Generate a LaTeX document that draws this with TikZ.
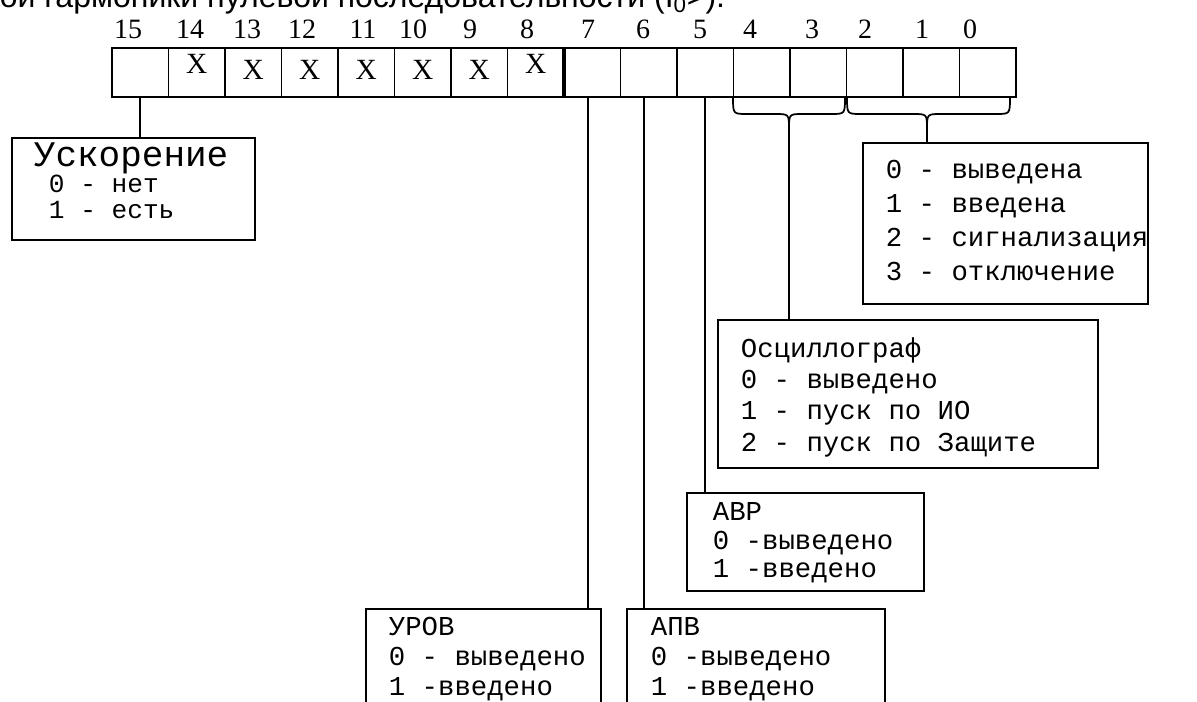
\documentclass[tikz,border=0pt]{standalone}
\usepackage{fontspec}
\setmainfont{Liberation Serif}
\newfontfamily\monofnt{Liberation Mono}
\newfontfamily\sansfnt{Liberation Sans}
\usetikzlibrary{calc}
\begin{document}
\begin{tikzpicture}[x=0.75pt,y=-0.75pt,line width=1.4pt,
  bitbox/.style={draw,minimum width=42.375pt,minimum height=36.75pt,inner sep=0pt,outer sep=0pt},
  infobox/.style={draw,anchor=north west,inner sep=0pt,outer sep=0pt},
  bitnum/.style={font=\fontsize{21}{24}\selectfont,inner sep=0pt},
  xmark/.style={font=\fontsize{22}{24}\selectfont,inner sep=0pt},
  ln/.style={anchor=base west,inner sep=0pt,font=\monofnt\fontsize{20.5}{24}\selectfont},
  lnbig/.style={ln,font=\monofnt\fontsize{27}{30}\selectfont},
  lnsmall/.style={ln,font=\monofnt\fontsize{19.6}{24}\selectfont},
  wire/.style={line width=1.3pt},
  curly/.style={line width=1.3pt}]
\useasboundingbox (0,0) rectangle (1197,702);
\clip (0,0) rectangle (1197,702);

% cut-off caption line at the top
\node[anchor=base west,inner sep=0pt,font=\sansfnt\fontsize{24}{28}\selectfont] (cap) at (-1,8)
  {ой гармоники нулевой последовательности (I\textsubscript{0}>).};

% register cells
\foreach \i in {0,...,15}
  \node[bitbox] (b\i) at ({112+56.5*(15.5-\i)},72.5) {};
\draw[line width=2.6pt] (b8.north east) -- (b8.south east);

% bit numbers
\foreach \i/\xx in {15/128,14/190,13/247,12/302,11/363,10/413,9/470,8/527,7/588,6/643,5/700,4/750,3/812,2/865,1/922,0/970}
  \node[bitnum] (n\i) at (\xx,29) {\i};

% reserved bits
\foreach \i/\dy in {14/-9,13/-3,12/-3,11/-3,10/-3,9/-3,8/-9}
  \node[xmark] (x\i) at ($(b\i.center)+(0,\dy)$) {X};

% description boxes
\node[infobox,minimum width=182.25pt,minimum height=76.5pt] (usk) at (12,138) {};
\node[infobox,minimum width=213.75pt,minimum height=120.75pt] (vals) at (863,143) {};
\node[infobox,minimum width=285pt,minimum height=111pt] (osc) at (718,320) {};
\node[infobox,minimum width=177.75pt,minimum height=73.5pt] (avr) at (687,493) {};
\node[infobox,minimum width=176.25pt,minimum height=90pt] (urov) at (366,609) {};
\node[infobox,minimum width=193.5pt,minimum height=90pt] (apv) at (627,609) {};

% texts
\node[lnbig] (usk1) at (33,167) {Ускорение};
\node[lnsmall] (usk2) at (48,193) {0 - нет};
\node[lnsmall] (usk3) at (48,219) {1 - есть};

\node[ln] (vals1) at (885,179) {0 - выведена};
\node[ln] (vals2) at (885,213) {1 - введена};
\node[ln] (vals3) at (885,247) {2 - сигнализация};
\node[ln] (vals4) at (885,281) {3 - отключение};

\node[ln] (osc1) at (740,358) {Осциллограф};
\node[ln] (osc2) at (740,389) {0 - выведено};
\node[ln] (osc3) at (740,420) {1 - пуск по ИО};
\node[ln] (osc4) at (740,451) {2 - пуск по Защите};

\node[ln] (avr1) at (712,520) {АВР};
\node[ln] (avr2) at (712,549) {0 -выведено};
\node[ln] (avr3) at (712,577) {1 -введено};

\node[ln] (urov1) at (388,635) {УРОВ};
\node[ln] (urov2) at (388,665) {0 - выведено};
\node[ln] (urov3) at (388,695) {1 -введено};

\node[ln] (apv1) at (650,635) {АПВ};
\node[ln] (apv2) at (650,665) {0 -выведено};
\node[ln] (apv3) at (650,695) {1 -введено};

% braces under bits 4-3 and 2-0
\coordinate (t1) at (789,129);
\coordinate (t2) at (927,129);
\draw[curly] (733,97) .. controls (733,114) .. (747,114) -- (775,114)
  .. controls (789,114) .. (t1) .. controls (789,114) .. (803,114) -- (831,114)
  .. controls (845,114) .. (845,97);
\draw[curly] (847,97) .. controls (847,114) .. (861,114) -- (913,114)
  .. controls (927,114) .. (t2) .. controls (927,114) .. (941,114) -- (996,114)
  .. controls (1010,114) .. (1010,97);

% connectors
\coordinate (c7) at ([xshift=-3pt]b7.south);
\coordinate (c6) at ([xshift=-3.4pt]b6.south);
\draw[wire] (b15.south) -- (usk.north -| b15.south);
\draw[wire] (c7) -- (urov.north -| c7);
\draw[wire] (c6) -- (apv.north -| c6);
\draw[wire] (b5.south) -- (avr.north -| b5.south);
\draw[wire] (t1) -- (osc.north -| t1);
\draw[wire] (t2) -- (vals.north -| t2);
\end{tikzpicture}
\end{document}
